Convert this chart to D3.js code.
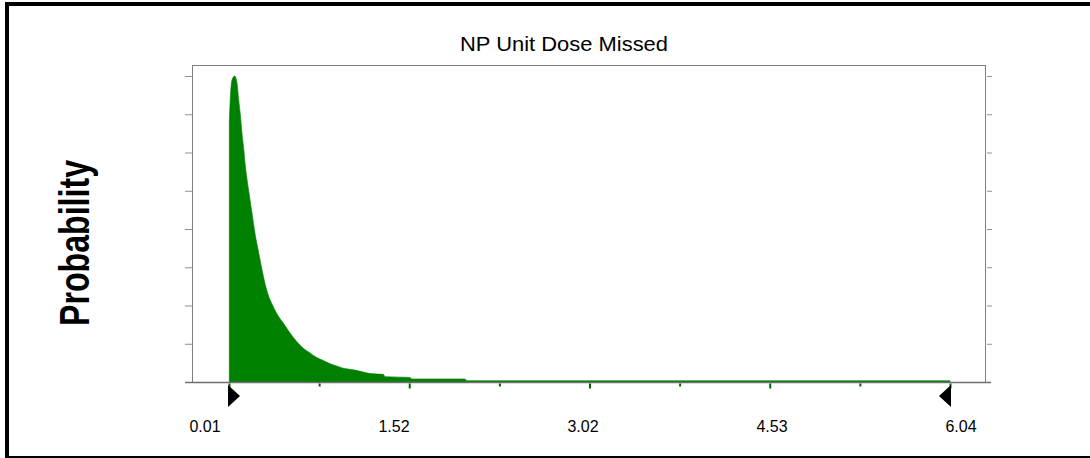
<!DOCTYPE html>
<html>
<head>
<meta charset="utf-8">
<script src="https://d3js.org/d3.v7.min.js"></script>
<style>
  body { margin: 0; background: #fff; }
  svg { display: block; }
</style>
</head>
<body>
<svg id="chart"></svg>
<script>
// chart data
const chartTitle = "NP Unit Dose Missed";
const yLabel = "Probability";
const xTickLabels = ["0.01", "1.52", "3.02", "4.53", "6.04"];
const xMin = 0.01;
const xMax = 6.04;
const yMax = 0.04;
const yTickCount = 8;
const xTickCount = 8;

// distribution outline (value, probability)
const doseValues = [
  0.0125, 0.0209, 0.0351, 0.0577, 0.0769, 0.0911, 0.1045, 0.1187, 0.1329, 0.1463,
  0.1748, 0.2024, 0.2300, 0.2584, 0.2860, 0.3136, 0.3420, 0.3696, 0.4114, 0.4641,
  0.5202, 0.5762, 0.6314, 0.6874, 0.7435, 0.7987, 0.8547, 0.9108, 0.9660, 1.0496,
  1.1332, 1.1892, 1.3005, 1.3147, 1.5238, 1.5380, 1.9838, 1.9980, 6.04
];
const probValues = [
  0.0340, 0.0371, 0.0395, 0.0400, 0.0391, 0.0369, 0.0350, 0.0325, 0.0305, 0.0283,
  0.0250, 0.0221, 0.0192, 0.0169, 0.0147, 0.0127, 0.0112, 0.0102, 0.0089, 0.0077,
  0.0064, 0.0053, 0.0044, 0.0038, 0.0032, 0.0028, 0.0024, 0.0021, 0.0018, 0.0016,
  0.0013, 0.0011, 0.0010, 0.0007, 0.0006, 0.0004, 0.0004, 0.00017, 0.00017
];

const width = 1090;
const height = 458;
const plotLeft = 192, plotRight = 985, plotTop = 65, plotBottom = 382;

const svg = d3.select("#chart")
    .attr("width", width)
    .attr("height", height);

// outer frame (right edge falls outside the picture)
svg.append("rect")
    .attr("x", 7).attr("y", 4)
    .attr("width", 1100).attr("height", 454)
    .attr("fill", "none")
    .attr("stroke", "#000")
    .attr("stroke-width", 4);

const x = d3.scaleLinear().domain([xMin, xMax]).range([229, 950]);
const y = d3.scaleLinear().domain([0, yMax]).range([plotBottom, 76]);

const points = doseValues.map((v, i) => ({ x: v, p: probValues[i] }));

// the green area
const area = d3.area()
    .curve(d3.curveMonotoneX)
    .x(d => x(d.x))
    .y0(y(0))
    .y1(d => y(d.p));

svg.append("path")
    .datum(points)
    .attr("d", area)
    .attr("fill", "#008000")
    .attr("stroke", "#008000")
    .attr("stroke-width", 0.6);

// plot frame
const frame = svg.append("g").attr("stroke", "#808080").attr("fill", "none");
frame.append("line").attr("x1", plotLeft).attr("x2", plotRight + 0.5)
    .attr("y1", plotTop + 0.5).attr("y2", plotTop + 0.5);
frame.append("line").attr("x1", plotLeft + 0.5).attr("x2", plotLeft + 0.5)
    .attr("y1", plotTop).attr("y2", plotBottom);
frame.append("line").attr("x1", plotRight + 0.5).attr("x2", plotRight + 0.5)
    .attr("y1", plotTop).attr("y2", plotBottom);
frame.append("line").attr("x1", 185).attr("x2", 991)
    .attr("y1", plotBottom + 0.5).attr("y2", plotBottom + 0.5)
    .attr("stroke", "#707070").attr("stroke-width", 1.5);

// y ticks, no labels
const yTicks = d3.range(1, yTickCount + 1).map(k => k * yMax / yTickCount);

const leftAxis = svg.append("g")
    .attr("transform", `translate(${plotLeft},0)`)
    .call(d3.axisLeft(y).tickValues(yTicks).tickSize(7).tickFormat(""));
leftAxis.select(".domain").remove();
leftAxis.selectAll(".tick line").attr("stroke", "#909090");

const rightAxis = svg.append("g")
    .attr("transform", `translate(${plotRight + 2},0)`)
    .call(d3.axisRight(y).tickValues(yTicks).tickSize(5).tickFormat(""));
rightAxis.select(".domain").remove();
rightAxis.selectAll(".tick line").attr("stroke", "#909090");

// x ticks, small green marks under the axis
const xTicks = d3.range(0, xTickCount + 1).map(k => xMin + k * (xMax - xMin) / xTickCount);
const bottomAxis = svg.append("g")
    .attr("transform", `translate(0,${plotBottom + 1.5})`)
    .call(d3.axisBottom(x).tickValues(xTicks).tickSize(4).tickFormat(""));
bottomAxis.select(".domain").remove();
bottomAxis.selectAll(".tick line")
    .attr("stroke", "#006400")
    .attr("stroke-width", 2)
    .attr("y2", (d, i) => i % 2 === 0 ? 5 : 3);

// range markers
svg.append("path")
    .attr("d", `M${x(xMin) - 1},385 L${x(xMin) - 1},407 L${x(xMin) + 11},396 Z`)
    .attr("fill", "#000");
svg.append("path")
    .attr("d", `M${x(xMax) + 1},385 L${x(xMax) + 1},407 L${x(xMax) - 11},396 Z`)
    .attr("fill", "#000");

// x labels, evenly spread as in the original
const xLabel = d3.scalePoint().domain(xTickLabels).range([205, 961]);
svg.append("g")
    .selectAll("text")
    .data(xTickLabels)
    .enter()
    .append("text")
    .attr("x", d => xLabel(d))
    .attr("y", 432)
    .attr("text-anchor", "middle")
    .attr("font-family", "Liberation Sans, Arial, sans-serif")
    .attr("font-size", 16)
    .attr("fill", "#000")
    .text(d => d);

// title
svg.append("text")
    .attr("x", 564)
    .attr("y", 51)
    .attr("text-anchor", "middle")
    .attr("font-family", "Liberation Sans, Arial, sans-serif")
    .attr("font-size", 21)
    .attr("textLength", 208)
    .attr("lengthAdjust", "spacingAndGlyphs")
    .attr("fill", "#000")
    .text(chartTitle);

// y axis title
svg.append("text")
    .attr("transform", "translate(89,243) rotate(-90) scale(1,1.4)")
    .attr("text-anchor", "middle")
    .attr("font-family", "Liberation Sans, Arial, sans-serif")
    .attr("font-weight", "bold")
    .attr("font-size", 30)
    .attr("textLength", 166)
    .attr("lengthAdjust", "spacingAndGlyphs")
    .attr("fill", "#000")
    .text(yLabel);
</script>
</body>
</html>
